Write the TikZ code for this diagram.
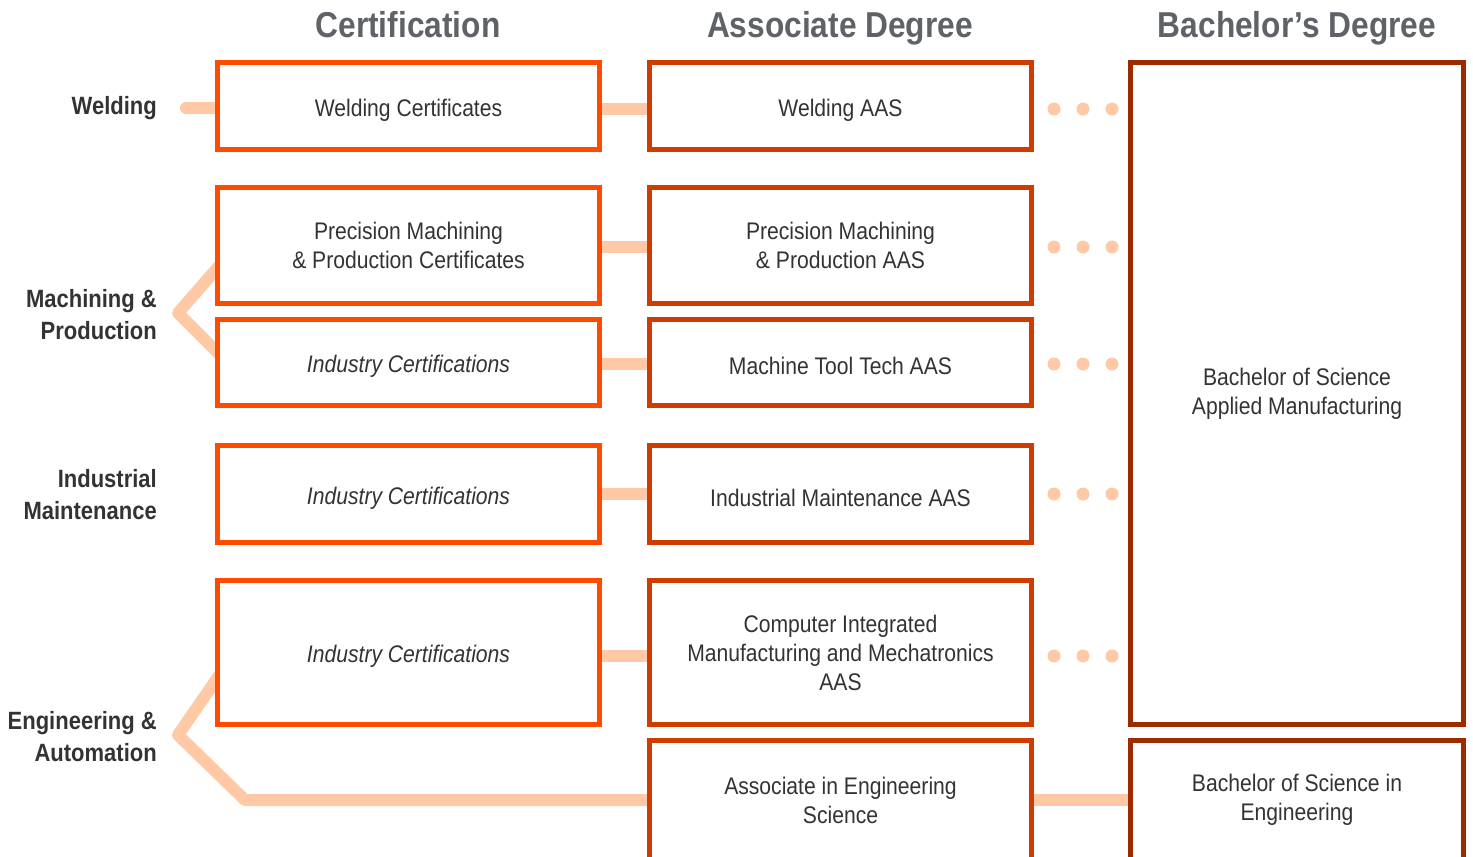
\documentclass[tikz,border=0pt]{standalone}
\usepackage{fontspec}
\setmainfont{Liberation Sans}[FakeStretch=0.88]
\usetikzlibrary{backgrounds,calc}
\definecolor{certc}{HTML}{FF4A00}
\definecolor{assocc}{HTML}{CF3C00}
\definecolor{bachc}{HTML}{9C2B00}
\definecolor{peach}{HTML}{FFC9A6}
\definecolor{txtc}{HTML}{333333}
\definecolor{hdrc}{HTML}{5F6368}
\begin{document}
\begin{tikzpicture}[x=1pt,y=-1pt,
 box/.style={draw,line width=5pt,fill=white,align=center,text=txtc,font=\fontsize{24}{29}\selectfont,inner sep=0pt,
   execute at begin node={\rule{0pt}{25pt}}},
 cbox/.style={box,draw=certc,minimum width=382pt},
 abox/.style={box,draw=assocc,minimum width=382pt},
 bbox/.style={box,draw=bachc,minimum width=333pt},
 hdr/.style={text=hdrc,font=\fontsize{36}{40}\selectfont\bfseries,anchor=base,inner sep=0pt},
 lab/.style={text=txtc,font=\fontsize{25}{32}\selectfont\bfseries,align=right,anchor=east,inner sep=0pt},
 conn/.style={draw=peach,line width=12pt,line join=round},
 dotc/.style={circle,fill=peach,minimum size=13pt,inner sep=0pt}
]
\useasboundingbox (0,0) rectangle (1473,857);

% headers
\node[hdr] (h1) at (408,37) {Certification};
\node[hdr] (h2) at (840,37) {Associate Degree};
\node[hdr] (h3) at (1297,37) {Bachelor’s Degree};

% left labels
\node[lab] (l1) at (157,108) {Welding};
\node[lab] (l2) at (157,315) {Machining \&\\Production};
\node[lab] (l3) at (157,495) {Industrial\\Maintenance};
\node[lab] (l4) at (157,737) {Engineering \&\\Automation};

% certification column
\node[cbox,minimum height=87pt] (c1) at (408.5,106) {Welding Certificates};
\node[cbox,minimum height=116pt] (c2) at (408.5,245.5) {Precision Machining\\\& Production Certificates};
\node[cbox,minimum height=86pt] (c3) at (408.5,362.5) {\itshape Industry Certifications};
\node[cbox,minimum height=97pt] (c4) at (408.5,494) {\itshape Industry Certifications};
\node[cbox,minimum height=144pt] (c5) at (408.5,652.5) {\itshape Industry Certifications};

% associate column
\node[abox,minimum height=87pt] (a1) at (840.5,106) {Welding AAS};
\node[abox,minimum height=116pt] (a2) at (840.5,245.5) {Precision Machining\\\& Production AAS};
\node[abox,minimum height=86pt] (a3) at (840.5,362.5) {Machine Tool Tech AAS};
\node[abox,minimum height=97pt] (a4) at (840.5,494) {Industrial Maintenance AAS};
\node[abox,minimum height=144pt] (a5) at (840.5,652.5) {Computer Integrated\\Manufacturing and Mechatronics\\AAS};
\node[abox,minimum height=119pt] (a6) at (840.5,800) {Associate in Engineering\\Science};

% bachelor column
\node[bbox,minimum height=662pt] (b1) at (1297,393.5) {Bachelor of Science\\Applied Manufacturing};
\node[bbox,minimum height=119pt] (b2) at (1297,800) {Bachelor of Science in\\Engineering};

% dots
\foreach \r/\y in {1/109,2/247,3/364,4/494,5/656}{
  \node[dotc] (d\r a) at (1054,\y) {};
  \node[dotc] (d\r b) at (1083,\y) {};
  \node[dotc] (d\r c) at (1112,\y) {};
}

% connectors
\coordinate (w0) at (186,108);
\coordinate (mv) at (178,313);
\coordinate (ev) at (178,735);
\coordinate (ek) at (245,800);
\begin{scope}[on background layer]
  \draw[conn,line cap=round] (w0) -- (c1.west |- w0);
  \draw[conn] (c1.east |- 0,109) -- (a1.west |- 0,109);
  \draw[conn] (c2.east |- 0,247) -- (a2.west |- 0,247);
  \draw[conn] (c3.east |- 0,364) -- (a3.west |- 0,364);
  \draw[conn] (c4.east) -- (a4.west);
  \draw[conn] (c5.east |- 0,656) -- (a5.west |- 0,656);
  \draw[conn] ($(c2.south west)+(12,-49)$) -- (mv) -- ($(c3.north west)+(12,45)$);
  \draw[conn] ($(c5.south west)+(10,-60)$) -- (ev) -- (ek) -- (a6.west);
  \draw[conn] (a6.east) -- (b2.west);
\end{scope}
\end{tikzpicture}
\end{document}
